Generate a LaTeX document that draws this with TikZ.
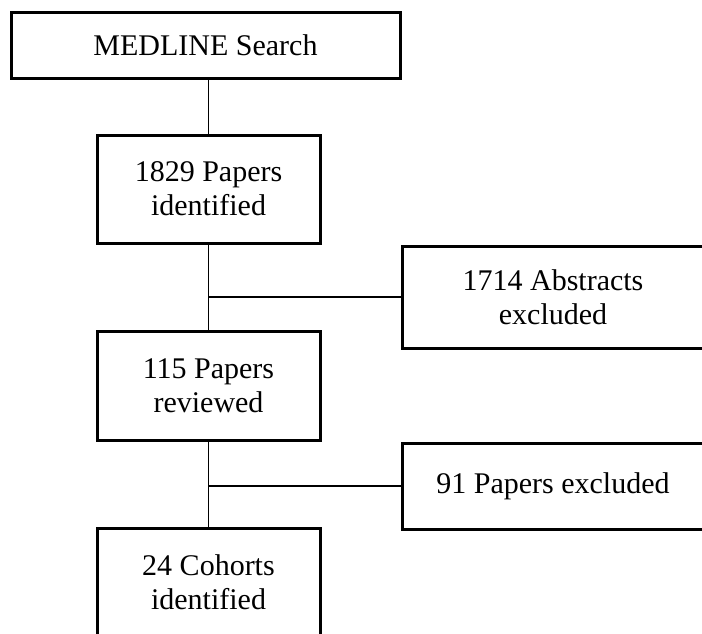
\documentclass[tikz,border=0pt]{standalone}
\usepackage{fontspec}
\setmainfont{Liberation Serif}
\begin{document}
\begin{tikzpicture}[x=1pt,y=-1pt,
  box/.style={draw=black,line width=3pt,inner sep=0pt,align=center,
    font=\fontsize{30}{34}\selectfont},
  link/.style={draw=black,line width=1.8pt}]
\useasboundingbox (0,0) rectangle (702,633);
\clip (0,0) rectangle (702,633);
\fill[white] (0,0) rectangle (702,633);
\node[box,minimum width=389pt,minimum height=66pt] (b1) at (205.5,45) {MEDLINE Search};
\node[box,minimum width=223pt,minimum height=108pt] (b2) at (208.5,189) {1829 Papers\\identified};
\node[box,minimum width=302pt,minimum height=102pt] (b3) at (553,297) {1714 Abstracts\\excluded};
\node[box,minimum width=223pt,minimum height=109pt] (b4) at (208.5,385.5) {115 Papers\\reviewed};
\node[box,minimum width=302pt,minimum height=86pt] (b5) at (553,486) {91 Papers excluded};
\node[box,minimum width=223pt,minimum height=108pt] (b6) at (208.5,582) {24 Cohorts\\identified};
\coordinate (j1) at (b2.south |- b3.west);
\coordinate (j2) at (b4.south |- b5.west);
\draw[link] (b2.north |- b1.south) -- (b2.north);
\draw[link] (b2.south) -- (b4.north);
\draw[link] (j1) -- (b3.west);
\draw[link] (b4.south) -- (b6.north);
\draw[link] (j2) -- (b5.west);
\end{tikzpicture}
\end{document}
